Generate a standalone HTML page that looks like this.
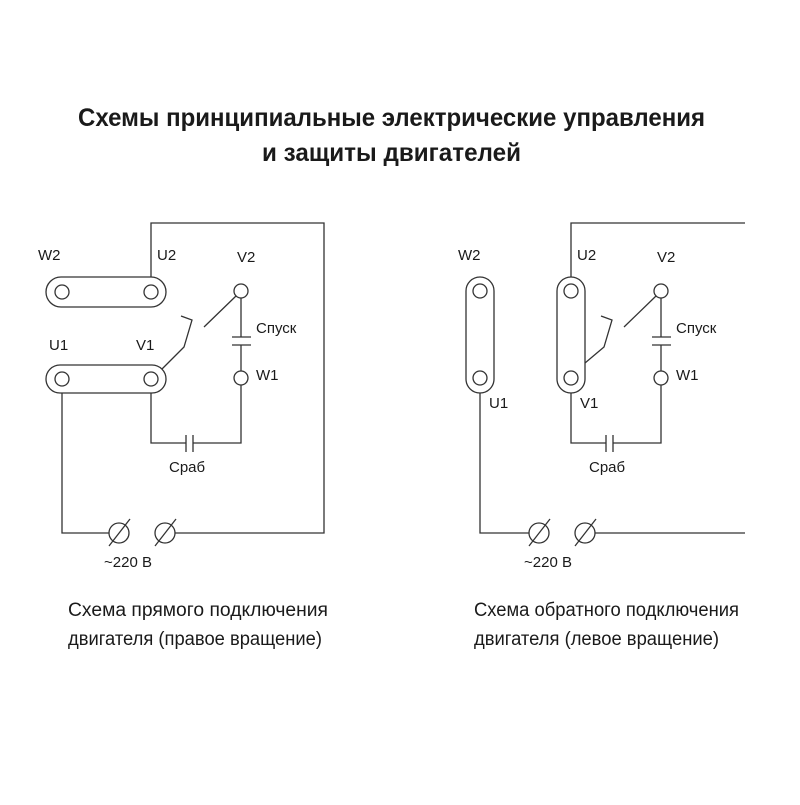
<!DOCTYPE html>
<html><head><meta charset="utf-8"><style>html,body{margin:0;padding:0;background:#fff}</style></head>
<body>
<svg width="800" height="800" viewBox="0 0 800 800" xmlns="http://www.w3.org/2000/svg" font-family="'Liberation Sans Narrow','Liberation Sans',sans-serif">
<rect width="800" height="800" fill="#fff"/>
<text x="78" y="126" font-size="25" font-weight="bold" fill="#1a1a1a" textLength="627" lengthAdjust="spacingAndGlyphs">Схемы принципиальные электрические управления</text>
<text x="262" y="161" font-size="25" font-weight="bold" fill="#1a1a1a" textLength="259" lengthAdjust="spacingAndGlyphs">и защиты двигателей</text>

<g fill="none" stroke="#333" stroke-width="1.3">
<!-- LEFT -->
<polyline points="151,277 151,223 324,223 324,533 175,533"/>
<rect x="46" y="277" width="120" height="30" rx="15"/>
<circle cx="62" cy="292" r="7"/><circle cx="151" cy="292" r="7"/>
<rect x="46" y="365" width="120" height="28" rx="14"/>
<circle cx="62" cy="379" r="7"/><circle cx="151" cy="379" r="7"/>
<circle cx="241" cy="291" r="7"/><circle cx="241" cy="378" r="7"/>
<line x1="241" y1="298" x2="241" y2="337"/>
<line x1="232" y1="337" x2="251" y2="337"/><line x1="232" y1="345" x2="251" y2="345"/>
<line x1="241" y1="345" x2="241" y2="371"/>
<line x1="236" y1="296" x2="204" y2="327"/>
<polyline points="162,369 184,347 192,320 181,316"/>
<polyline points="151,393 151,443 186,443"/>
<line x1="186" y1="435" x2="186" y2="452"/><line x1="193" y1="435" x2="193" y2="452"/>
<polyline points="193,443 241,443 241,385"/>
<polyline points="62,393 62,533 109,533"/>
<circle cx="119" cy="533" r="10"/><circle cx="165" cy="533" r="10"/>
<line x1="109" y1="546" x2="130" y2="519"/><line x1="155" y1="546" x2="176" y2="519"/>
<!-- RIGHT -->
<polyline points="571,277 571,223 745,223"/>
<line x1="595" y1="533" x2="745" y2="533"/>
<rect x="466" y="277" width="28" height="116" rx="14"/>
<circle cx="480" cy="291" r="7"/><circle cx="480" cy="378" r="7"/>
<rect x="557" y="277" width="28" height="116" rx="14"/>
<circle cx="571" cy="291" r="7"/><circle cx="571" cy="378" r="7"/>
<circle cx="661" cy="291" r="7"/><circle cx="661" cy="378" r="7"/>
<line x1="661" y1="298" x2="661" y2="337"/>
<line x1="652" y1="337" x2="671" y2="337"/><line x1="652" y1="345" x2="671" y2="345"/>
<line x1="661" y1="345" x2="661" y2="371"/>
<line x1="656" y1="296" x2="624" y2="327"/>
<polyline points="585,363 604,347 612,320 601,316"/>
<polyline points="571,393 571,443 606,443"/>
<line x1="606" y1="435" x2="606" y2="452"/><line x1="613" y1="435" x2="613" y2="452"/>
<polyline points="613,443 661,443 661,385"/>
<polyline points="480,393 480,533 529,533"/>
<circle cx="539" cy="533" r="10"/><circle cx="585" cy="533" r="10"/>
<line x1="529" y1="546" x2="550" y2="519"/><line x1="575" y1="546" x2="596" y2="519"/>
</g>

<g font-size="15" fill="#1a1a1a">
<text x="38" y="260">W2</text><text x="157" y="260">U2</text><text x="237" y="262">V2</text>
<text x="49" y="350">U1</text><text x="136" y="350">V1</text>
<text x="256" y="333">Спуск</text><text x="256" y="380">W1</text>
<text x="169" y="472">Сраб</text><text x="104" y="567">~220 В</text>
<text x="458" y="260">W2</text><text x="577" y="260">U2</text><text x="657" y="262">V2</text>
<text x="489" y="408">U1</text><text x="580" y="408">V1</text>
<text x="676" y="333">Спуск</text><text x="676" y="380">W1</text>
<text x="589" y="472">Сраб</text><text x="524" y="567">~220 В</text>
</g>
<g font-size="19" fill="#1a1a1a">
<text x="68" y="616" textLength="260" lengthAdjust="spacingAndGlyphs">Схема прямого подключения</text>
<text x="68" y="645" textLength="254" lengthAdjust="spacingAndGlyphs">двигателя (правое вращение)</text>
<text x="474" y="616" textLength="265" lengthAdjust="spacingAndGlyphs">Схема обратного подключения</text>
<text x="474" y="645" textLength="245" lengthAdjust="spacingAndGlyphs">двигателя (левое вращение)</text>
</g>
</svg>
</body></html>
